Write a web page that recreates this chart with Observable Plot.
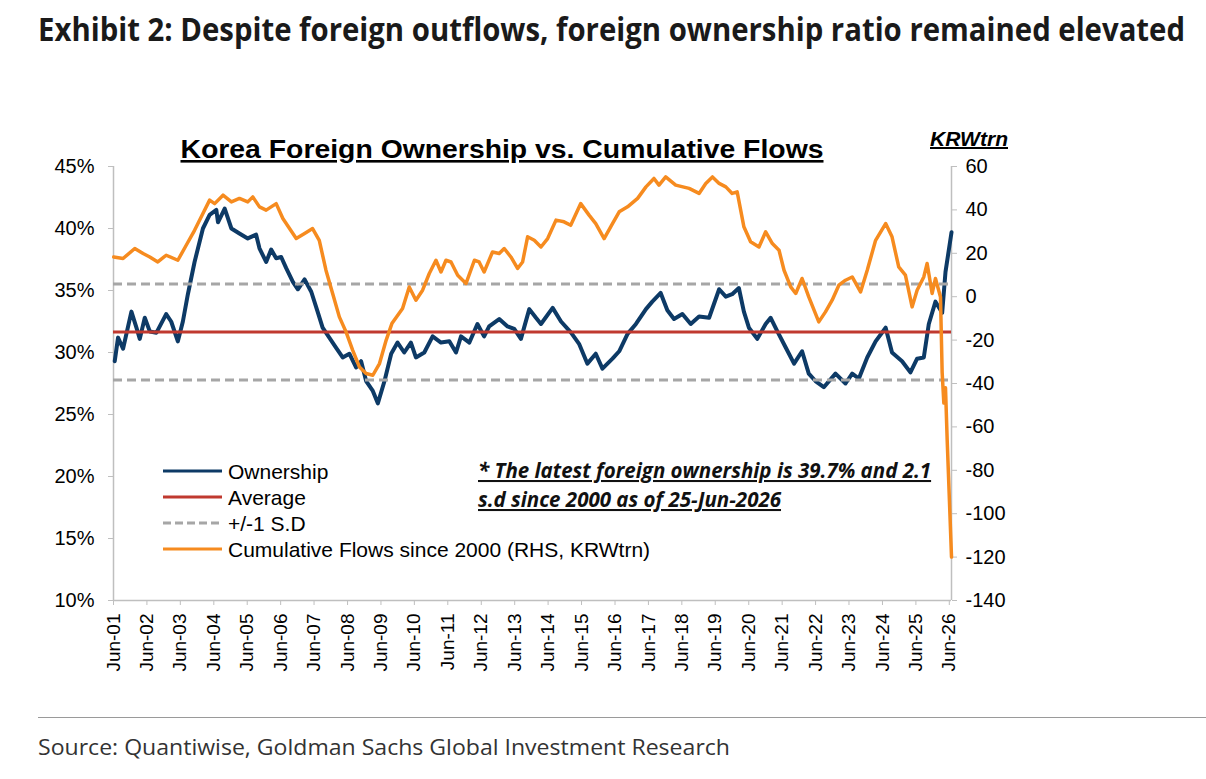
<!DOCTYPE html>
<html>
<head>
<meta charset="utf-8">
<script src="https://cdn.jsdelivr.net/npm/d3@7"></script>
<script src="https://cdn.jsdelivr.net/npm/@observablehq/plot@0.6"></script>
<style>
  html, body { margin: 0; padding: 0; background: #fff; }
  body { width: 1206px; height: 779px; position: relative; overflow: hidden; }
  #title { position: absolute; left: 38px; top: 12px; font: 700 33px/33px 'Open Sans', sans-serif; color: #1a1a1a; white-space: nowrap; transform-origin: 0 0; }
  #chart { position: absolute; left: 0; top: 70px; }
  #rule { position: absolute; left: 38px; right: 0; top: 717px; border-top: 1.5px solid #9a9a9a; }
  #source { position: absolute; left: 38px; top: 735px; font: 400 22px/22px 'Open Sans', sans-serif; color: #333; white-space: nowrap; transform-origin: 0 0; }
</style>
</head>
<body>
<div id="title">Exhibit 2: Despite foreign outflows, foreign ownership ratio remained elevated</div>
<div id="chart"></div>
<div id="rule"></div>
<div id="source">Source: Quantiwise, Goldman Sachs Global Investment Research</div>
<script>
// ---------- data (decimal years) ----------
const ownershipT = [2001.45,2001.55,2001.70,2001.95,2002.10,2002.20,2002.35,2002.50,2002.70,2002.99,2003.14,2003.34,2003.49,2003.64,2003.84,2004.09,2004.29,2004.49,2004.54,2004.74,2004.94,2005.18,2005.43,2005.68,2005.78,2005.98,2006.13,2006.28,2006.43,2006.58,2006.78,2006.93,2007.13,2007.33,2007.52,2007.67,2007.87,2008.07,2008.27,2008.47,2008.67,2008.82,2008.97,2009.17,2009.32,2009.52,2009.72,2009.91,2010.11,2010.31,2010.46,2010.71,2010.96,2011.21,2011.46,2011.66,2011.81,2012.06,2012.30,2012.50,2012.65,2012.95,2013.20,2013.40,2013.60,2013.85,2014.05,2014.20,2014.55,2014.80,2015.10,2015.34,2015.59,2015.84,2016.04,2016.34,2016.54,2016.79,2017.04,2017.34,2017.53,2017.78,2017.98,2018.18,2018.43,2018.68,2018.93,2019.23,2019.53,2019.73,2019.92,2020.12,2020.27,2020.42,2020.67,2020.92,2021.07,2021.27,2021.52,2021.77,2022.01,2022.21,2022.41,2022.66,2023.01,2023.31,2023.51,2023.71,2023.96,2024.21,2024.51,2024.70,2025.00,2025.25,2025.45,2025.65,2025.80,2026.00,2026.20,2026.30,2026.48];
const ownershipPct = [29.3,31.2,30.3,33.3,32.0,31.1,32.8,31.7,31.6,33.1,32.5,30.9,32.5,34.7,37.3,40.0,41.1,41.5,40.5,41.6,40.0,39.6,39.2,39.5,38.4,37.3,38.3,37.6,37.7,36.8,35.7,35.1,35.9,34.9,33.3,32.0,31.2,30.4,29.6,29.9,28.8,29.3,27.7,26.9,25.9,27.7,29.9,30.8,30.0,30.8,29.6,30.0,31.3,30.8,30.9,30.0,31.3,30.8,32.3,31.3,32.1,32.7,32.1,31.9,31.1,33.5,32.8,32.3,33.6,32.5,31.6,30.7,29.1,29.9,28.7,29.5,30.1,31.5,32.3,33.5,34.1,34.8,33.4,32.7,33.1,32.3,32.9,32.8,35.1,34.5,34.7,35.2,33.3,32.0,31.1,32.3,32.8,31.7,30.4,29.1,30.1,28.3,27.7,27.2,28.3,27.5,28.3,27.9,29.6,30.9,32.0,30.0,29.3,28.4,29.5,29.6,32.3,34.1,33.2,36.5,39.7];

const flowsT = [2001.42,2001.70,2002.05,2002.30,2002.50,2002.74,2002.99,2003.34,2003.59,2003.84,2004.09,2004.29,2004.44,2004.69,2004.94,2005.18,2005.43,2005.58,2005.78,2005.98,2006.28,2006.48,2006.88,2007.13,2007.37,2007.57,2007.77,2007.97,2008.17,2008.37,2008.57,2008.77,2008.97,2009.17,2009.37,2009.57,2009.74,2010.06,2010.26,2010.46,2010.66,2010.86,2011.06,2011.21,2011.36,2011.51,2011.71,2011.96,2012.21,2012.35,2012.50,2012.75,2012.95,2013.10,2013.30,2013.50,2013.65,2013.80,2014.00,2014.20,2014.40,2014.65,2014.89,2015.09,2015.39,2015.64,2015.84,2016.09,2016.34,2016.54,2016.79,2017.09,2017.34,2017.58,2017.73,2017.93,2018.23,2018.63,2018.93,2019.13,2019.33,2019.53,2019.73,2019.92,2020.07,2020.27,2020.47,2020.72,2020.92,2021.12,2021.32,2021.47,2021.67,2021.82,2022.01,2022.21,2022.51,2022.71,2022.91,2023.11,2023.31,2023.51,2023.76,2023.96,2024.21,2024.51,2024.70,2024.90,2025.10,2025.30,2025.45,2025.65,2025.75,2025.90,2026.00,2026.15,2026.20,2026.25,2026.30,2026.35,2026.48];
const flowsKRWtrn = [18.3,17.6,22.2,19.9,18.3,16.0,19.1,16.8,23.7,30.6,38.3,44.5,42.9,46.8,43.7,45.3,43.7,46.0,41.4,39.9,42.9,36.0,26.8,29.1,31.4,26.0,12.2,1.5,-9.3,-16.2,-24.7,-32.4,-35.4,-36.2,-30.8,-20.0,-12.4,-5.4,4.5,-1.6,3.0,10.7,16.8,11.4,16.8,16.0,9.9,6.1,16.8,16.0,11.4,20.6,19.9,22.2,18.3,13.0,16.0,27.6,26.0,22.9,26.8,35.3,34.5,32.9,42.9,37.6,33.7,26.8,33.7,39.1,41.4,45.3,50.6,54.5,51.4,55.2,51.4,49.9,47.6,52.2,55.2,52.2,50.6,47.6,48.3,32.2,25.3,22.9,29.9,24.5,21.4,12.2,4.5,1.5,8.4,-0.1,-11.6,-7.0,-1.6,5.3,7.6,9.1,2.2,12.2,26.0,33.7,27.6,13.7,9.9,-4.7,3.0,9.1,15.3,1.5,8.4,-0.1,-35,-49,-42,-66,-120];

const averagePct = 31.66;
const sdPct = 3.87;
const leftTicks = [10, 15, 20, 25, 30, 35, 40, 45];
const rightTicks = [-140, -120, -100, -80, -60, -40, -20, 0, 20, 40, 60];
const tickYears = d3.range(2001, 2027);
const legendLabels = ["Ownership", "Average", "+/-1 S.D", "Cumulative Flows since 2000 (RHS, KRWtrn)"];

// ---------- helpers ----------
const toDate = t => { const y = Math.floor(t); const a = Date.UTC(y,0,1), b = Date.UTC(y+1,0,1); return new Date(a + (t - y) * (b - a)); };
const L = [10, 45], R = [-140, 60];
const rToL = v => L[0] + (v - R[0]) * (L[1] - L[0]) / (R[1] - R[0]);
const lToR = v => R[0] + (v - L[0]) * (R[1] - R[0]) / (L[1] - L[0]);

const ownership = ownershipT.map((t, i) => ({date: toDate(t), value: ownershipPct[i]}));
const flows = flowsT.map((t, i) => ({date: toDate(t), value: rToL(flowsKRWtrn[i])}));
const xDomain = [new Date(Date.UTC(2001,5,1)), new Date(Date.UTC(2026,5,25))];

const NAVY = "#0d3a66", RED = "#c0392f", GREY = "#a6a6a6", ORANGE = "#f68b1f", AXIS = "#bfbfbf";
const FONT = "'Liberation Sans', Arial, sans-serif";

const plot = Plot.plot({
  width: 1206, height: 640,
  marginLeft: 113, marginRight: 255, marginTop: 96, marginBottom: 110,
  style: {fontFamily: FONT, fontSize: "20px", background: "#fff", color: "#000", overflow: "visible"},
  x: {type: "utc", domain: xDomain},
  y: {domain: L},
  marks: [
    Plot.ruleX([xDomain[0]], {stroke: AXIS, strokeWidth: 1.5}),
    Plot.ruleX([xDomain[1]], {stroke: AXIS, strokeWidth: 1.5}),
    Plot.ruleY([L[0]], {stroke: AXIS, strokeWidth: 1.5}),
    Plot.axisY({anchor: "left", ticks: leftTicks, tickFormat: d => d + "%", tickSize: 5, tickPadding: 14, stroke: AXIS, fill: "#000", fontSize: 20, label: null}),
    Plot.axisY({anchor: "right", ticks: rightTicks.map(rToL), tickFormat: d => String(Math.round(lToR(d))), tickSize: 5, tickPadding: 9, stroke: AXIS, fill: "#000", fontSize: 20, label: null}),
    Plot.axisX({ticks: tickYears.map(y => new Date(Date.UTC(y,5,1))), tickFormat: d => "Jun-" + String(d.getUTCFullYear() % 100).padStart(2, "0"), tickRotate: -90, tickSize: 5, tickPadding: 8, stroke: AXIS, fill: "#000", fontSize: 19, label: null}),
    Plot.lineY(ownership, {x: "date", y: "value", stroke: NAVY, strokeWidth: 4, strokeLinejoin: "round"}),
    Plot.ruleY([averagePct], {stroke: RED, strokeWidth: 3}),
    Plot.ruleY([averagePct + sdPct, averagePct - sdPct], {stroke: GREY, strokeWidth: 3, strokeDasharray: "9,5"}),
    Plot.lineY(flows, {x: "date", y: "value", stroke: ORANGE, strokeWidth: 3.5, strokeLinejoin: "round"})
  ]
});
document.getElementById("chart").appendChild(plot);

// ---------- annotations ----------
const svg = d3.select(plot);
svg.append("text").attr("x", 502).attr("y", 88).attr("text-anchor", "middle")
  .attr("font-family", FONT).attr("font-weight", 700).attr("font-size", 26)
  .attr("textLength", 643).attr("lengthAdjust", "spacingAndGlyphs")
  .attr("text-decoration", "underline").attr("fill", "#000")
  .text("Korea Foreign Ownership vs. Cumulative Flows");
svg.append("text").attr("x", 969).attr("y", 76).attr("text-anchor", "middle")
  .attr("font-family", FONT).attr("font-weight", 700).attr("font-style", "italic").attr("font-size", 20)
  .attr("textLength", 78).attr("lengthAdjust", "spacingAndGlyphs")
  .attr("text-decoration", "underline").attr("fill", "#000").text("KRWtrn");

const legendStyles = [
  {stroke: NAVY, dash: null},
  {stroke: RED, dash: null},
  {stroke: GREY, dash: "8,4"},
  {stroke: ORANGE, dash: null}
];
const lg = svg.append("g").attr("text-anchor", "start");
legendLabels.forEach((lab, i) => {
  const cy = 401 + i * 26;
  lg.append("line").attr("x1", 163).attr("x2", 222).attr("y1", cy).attr("y2", cy)
    .attr("stroke", legendStyles[i].stroke).attr("stroke-width", 3)
    .attr("stroke-dasharray", legendStyles[i].dash);
  lg.append("text").attr("x", 228).attr("y", cy).attr("dy", "0.36em").attr("text-anchor", "start")
    .attr("font-family", FONT).attr("font-size", 21).attr("fill", "#000").text(lab);
});

const note = ["* The latest foreign ownership is 39.7% and 2.1", "s.d since 2000 as of 25-Jun-2026"];
note.forEach((s, i) => {
  svg.append("text").attr("x", 478).attr("y", 408 + i * 29).attr("text-anchor", "start")
    .attr("font-family", "'Open Sans', sans-serif").attr("font-weight", 700).attr("font-style", "italic")
    .attr("font-size", 20.5).attr("text-decoration", "underline").attr("fill", "#111").text(s);
});

// fit header / footer widths
function fit(id, target) {
  const el = document.getElementById(id);
  const w = el.getBoundingClientRect().width;
  el.style.transform = `scaleX(${target / w})`;
}
fit("title", 1147);
fit("source", 692);
</script>
</body>
</html>
